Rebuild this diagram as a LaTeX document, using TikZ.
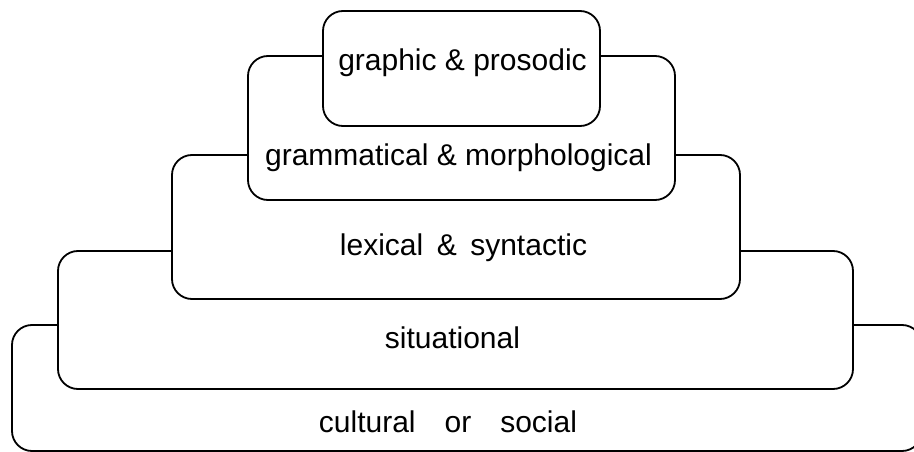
\documentclass[tikz,border=0pt]{standalone}
\usepackage{fontspec}
\setmainfont{Liberation Sans}
\begin{document}
\begin{tikzpicture}[x=1pt,y=-1pt,
  layer/.style={draw=black,line width=1.8pt,rounded corners=20pt},
  lbl/.style={anchor=base,inner sep=0pt,font=\fontsize{30}{36}\selectfont}]
\useasboundingbox (0,0) rectangle (914,452);
\clip (0,0) rectangle (914,452);

% corner points of the top level
\coordinate (g1) at (323,11);  \coordinate (g2) at (600,126);

% top level: closed rounded box
\draw[layer] (g1) rectangle (g2);

% each lower level opens at the top, its upper edge running into the sides of the level above
\draw[layer] (323,56) -- (248,56) -- (248,200) -- (675,200) -- (675,56) -- (600,56);
\draw[layer] (248,155) -- (172,155) -- (172,299) -- (740,299) -- (740,155) -- (675,155);
\draw[layer] (172,251) -- (58,251) -- (58,389) -- (853,389) -- (853,251) -- (740,251);
\draw[layer] (58,325) -- (12,325) -- (12,451) -- (922,451) -- (922,325) -- (853,325);

% level labels
\node[lbl] (tgraph) at (462.5,71)  {graphic \& prosodic};
\node[lbl] (tgram)  at (458.5,165) {grammatical \& morphological};
\node[lbl] (tlex)   at (463.5,255) {lexical\hspace{13.5pt}\&\hspace{13.5pt}syntactic};
\node[lbl] (tsit)   at (452.5,348) {situational};
\node[lbl] (tcult)  at (448,432)   {cultural\hspace{29pt}or\hspace{29pt}social};
\end{tikzpicture}
\end{document}
